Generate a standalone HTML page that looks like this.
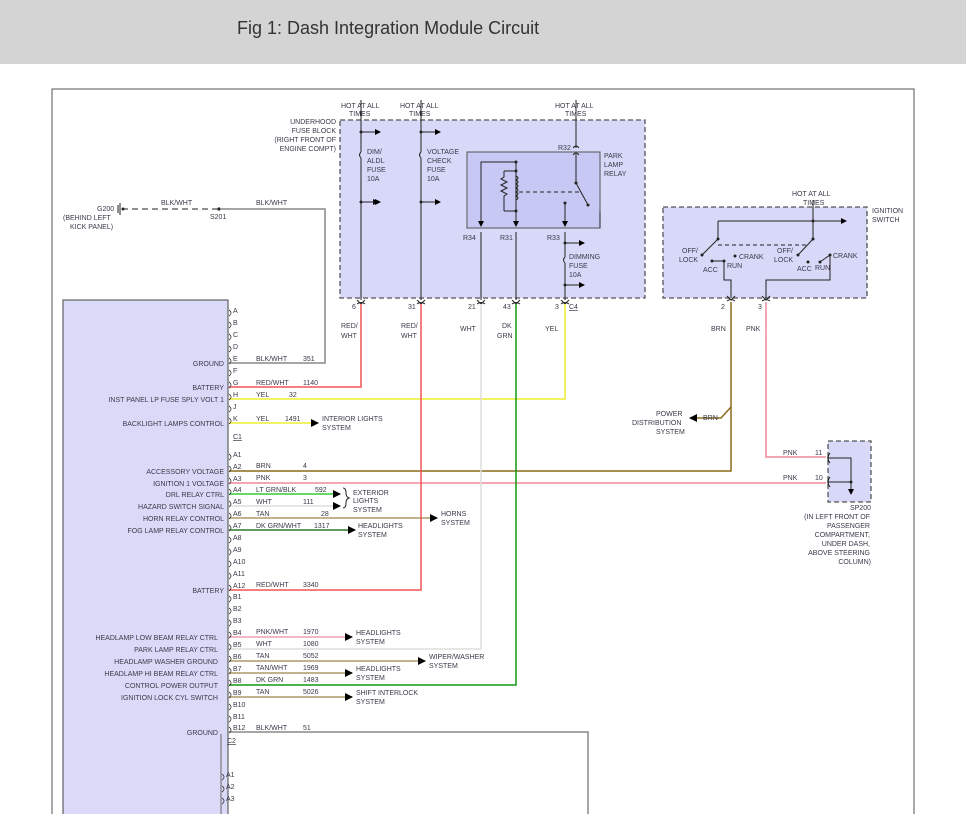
<!DOCTYPE html>
<html><head><meta charset="utf-8"><style>
body{margin:0;background:#fff;}
svg text{font-family:"Liberation Sans",sans-serif;font-size:7px;fill:#3a3a4a;}
</style></head><body>
<svg width="966" height="814" viewBox="0 0 966 814" xmlns="http://www.w3.org/2000/svg">
<defs>
<marker id="ar" markerWidth="8" markerHeight="8" refX="7" refY="4" orient="auto" markerUnits="userSpaceOnUse"><path d="M0,0 L8,4 L0,8 z" fill="#000"/></marker>
<marker id="as" markerWidth="6" markerHeight="6" refX="5" refY="3" orient="auto" markerUnits="userSpaceOnUse"><path d="M0,0 L6,3 L0,6 z" fill="#000"/></marker>
</defs>
<rect x="0" y="0" width="966" height="64" fill="#d4d4d4"/>
<text x="237" y="34" style="font-size:18px;fill:#333">Fig 1: Dash Integration Module Circuit</text>
<path d="M52,814 V89 H914 V814" fill="none" stroke="#555" stroke-width="1"/>

<!-- module -->
<rect x="63" y="300" width="165" height="520" fill="#dadaf8" stroke="#444" stroke-width="1"/>

<!-- fuse block -->
<rect x="340" y="120" width="305" height="178" fill="#d8d8f8" stroke="#555" stroke-dasharray="5,3" stroke-width="1.3"/>
<rect x="467" y="152" width="133" height="76" fill="#c8c8f4" stroke="#555"/>
<g stroke="#222" fill="none" stroke-width="1">
<path d="M361,100 V152 M361,158 V300 M361,132 H378 M361,202 H378" marker-end="url(#as)"/>
<path d="M361,132 H380" marker-end="url(#as)"/><path d="M361,202 H380" marker-end="url(#as)"/>
<path d="M361,152 q-3,3 0,6"/>
<path d="M421,100 V152 M421,158 V300"/><path d="M421,132 H440" marker-end="url(#as)"/><path d="M421,202 H440" marker-end="url(#as)"/>
<path d="M421,152 q-3,3 0,6"/>
<path d="M576,100 V148"/><path d="M573,148 q3,-4 6,0"/><path d="M573,155 q3,-4 6,0"/><path d="M576,154 V183 L588,205"/>
<path d="M515,162 H481 V226" marker-end="url(#as)"/><path d="M516,162 V226" marker-end="url(#as)"/>
<path d="M504,171 H516 M504,211 H516 M504,171 v6 l-3,2 l6,3 l-6,3 l6,3 l-6,3 l6,3 l-3,2 V211"/>
<path d="M516,176 q4,2 0,4 q4,2 0,4 q4,2 0,4 q4,2 0,4 q4,2 0,4 q4,2 0,4"/>
<path d="M519,192 H580" stroke-dasharray="4,3"/>
<path d="M565,203 V226" marker-end="url(#as)"/>
<path d="M481,232 V300 M516,232 V300 M565,232 V257 M565,263 V300"/>
<path d="M565,243 H584" marker-end="url(#as)"/><path d="M565,285 H584" marker-end="url(#as)"/>
<path d="M565,257 q-3,3 0,6"/>
<path d="M600,228 V212"/>
</g>
<g fill="#222"><circle cx="361" cy="132" r="1.5"/><circle cx="361" cy="202" r="1.5"/><circle cx="421" cy="132" r="1.5"/><circle cx="421" cy="202" r="1.5"/><circle cx="576" cy="183" r="1.5"/><circle cx="588" cy="205" r="1.5"/><circle cx="565" cy="203" r="1.5"/><circle cx="516" cy="171" r="1.5"/><circle cx="516" cy="211" r="1.5"/><circle cx="565" cy="243" r="1.5"/><circle cx="565" cy="285" r="1.5"/><circle cx="516" cy="162" r="1.5"/></g>
<text x="341" y="108">HOT AT ALL</text><text x="349" y="116">TIMES</text>
<text x="400" y="108">HOT AT ALL</text><text x="409" y="116">TIMES</text>
<text x="555" y="108">HOT AT ALL</text><text x="565" y="116">TIMES</text>
<g text-anchor="end"><text x="336" y="124">UNDERHOOD</text><text x="336" y="133">FUSE BLOCK</text><text x="336" y="142">(RIGHT FRONT OF</text><text x="336" y="151">ENGINE COMPT)</text></g>
<text x="367" y="154">DIM/</text><text x="367" y="163">ALDL</text><text x="367" y="172">FUSE</text><text x="367" y="181">10A</text>
<text x="427" y="154">VOLTAGE</text><text x="427" y="163">CHECK</text><text x="427" y="172">FUSE</text><text x="427" y="181">10A</text>
<text x="604" y="158">PARK</text><text x="604" y="167">LAMP</text><text x="604" y="176">RELAY</text>
<text x="558" y="150">R32</text><text x="463" y="240">R34</text><text x="500" y="240">R31</text><text x="547" y="240">R33</text>
<text x="569" y="259">DIMMING</text><text x="569" y="268">FUSE</text><text x="569" y="277">10A</text>
<!-- fuse pins bottom -->
<g stroke="#222" fill="none">
<path d="M357,300 l4,4 l4,-4 M357,304 q4,-3 8,0"/><path d="M417,300 l4,4 l4,-4 M417,304 q4,-3 8,0"/>
<path d="M477,300 l4,4 l4,-4 M477,304 q4,-3 8,0"/><path d="M512,300 l4,4 l4,-4 M512,304 q4,-3 8,0"/>
<path d="M561,300 l4,4 l4,-4 M561,304 q4,-3 8,0"/>
</g>
<text x="352" y="309">6</text><text x="408" y="309">31</text><text x="468" y="309">21</text><text x="503" y="309">43</text><text x="555" y="309">3</text><text x="569" y="309" style="text-decoration:underline">C4</text>
<text x="341" y="328">RED/</text><text x="341" y="338">WHT</text>
<text x="401" y="328">RED/</text><text x="401" y="338">WHT</text>
<text x="460" y="331">WHT</text><text x="502" y="328">DK</text><text x="497" y="338">GRN</text><text x="545" y="331">YEL</text>
<text x="711" y="331">BRN</text><text x="746" y="331">PNK</text>

<!-- ignition switch -->
<rect x="663" y="207" width="204" height="91" fill="#d8d8f8" stroke="#555" stroke-dasharray="5,3" stroke-width="1.3"/>
<text x="792" y="196">HOT AT ALL</text><text x="803" y="205">TIMES</text>
<text x="872" y="213">IGNITION</text><text x="872" y="222">SWITCH</text>
<g stroke="#222" fill="none">
<path d="M813,200 V239 L798,255"/><path d="M718,221 H846" marker-end="url(#as)"/>
<path d="M718,221 V239 L702,255"/><path d="M718,245 H806" stroke-dasharray="4,3"/>
<path d="M712,261 H724 V280 H731 V298"/><path d="M820,262 L830,255 V280 H766 V298"/>
<path d="M727,296 l4,4 l4,-4 M727,301 q4,-3 8,0"/><path d="M762,296 l4,4 l4,-4 M762,301 q4,-3 8,0"/>
</g>
<g fill="#222"><circle cx="813" cy="221" r="1.5"/><circle cx="718" cy="239" r="1.5"/><circle cx="702" cy="255" r="1.5"/><circle cx="813" cy="239" r="1.5"/><circle cx="798" cy="255" r="1.5"/><circle cx="712" cy="261" r="1.5"/><circle cx="724" cy="261" r="1.5"/><circle cx="735" cy="256" r="1.5"/><circle cx="808" cy="262" r="1.5"/><circle cx="820" cy="262" r="1.5"/><circle cx="830" cy="255" r="1.5"/></g>
<text x="682" y="253">OFF/</text><text x="679" y="262">LOCK</text><text x="703" y="272">ACC</text><text x="727" y="268">RUN</text><text x="739" y="259">CRANK</text>
<text x="777" y="253">OFF/</text><text x="774" y="262">LOCK</text><text x="797" y="271">ACC</text><text x="815" y="270">RUN</text><text x="833" y="258">CRANK</text>
<text x="721" y="309">2</text><text x="758" y="309">3</text>

<!-- SP200 -->
<rect x="828" y="441" width="43" height="61" fill="#d8d8f8" stroke="#555" stroke-dasharray="5,3" stroke-width="1.3"/>
<g stroke="#222" fill="none"><path d="M830,458 H851 V494" marker-end="url(#as)"/><path d="M830,482 H851"/>
<path d="M830,453 q-4,5 0,10 M827,458 h4"/><path d="M830,477 q-4,5 0,10 M827,482 h4"/></g>
<circle cx="851" cy="482" r="1.5" fill="#222"/>
<text x="783" y="455">PNK</text><text x="815" y="455">11</text><text x="783" y="480">PNK</text><text x="815" y="480">10</text>
<g text-anchor="end"><text x="871" y="510">SP200</text><text x="870" y="519">(IN LEFT FRONT OF</text><text x="870" y="528">PASSENGER</text><text x="870" y="537">COMPARTMENT,</text><text x="870" y="546">UNDER DASH,</text><text x="870" y="555">ABOVE STEERING</text><text x="871" y="564">COLUMN)</text></g>

<!-- G200 -->
<g stroke="#222" fill="none"><path d="M118,205 v8 M120,203 v12"/><path d="M122,209 H218" stroke-dasharray="6,4"/></g>
<circle cx="123" cy="209" r="1.5" fill="#222"/><circle cx="219" cy="209" r="1.6" fill="#222"/>
<text x="97" y="211">G200</text><text x="63" y="220">(BEHIND LEFT</text><text x="70" y="229">KICK PANEL)</text>
<text x="161" y="205">BLK/WHT</text><text x="256" y="205">BLK/WHT</text><text x="210" y="219">S201</text>

<!-- wires -->
<g fill="none" stroke-width="1.5">
<path d="M220,209 H325 V363 H229" stroke="#888"/>
<path d="M361,304 V387 H229" stroke="#f05555"/>
<path d="M565,304 V399 H229" stroke="#eeee33"/>
<path d="M229,423 H318" stroke="#eeee33" marker-end="url(#ar)"/>
<path d="M731,302 V471 H229" stroke="#8b6a1a"/>
<path d="M731,407 L721,418 H690" stroke="#8b6a1a" marker-end="url(#ar)"/>
<path d="M766,302 V457 H826" stroke="#f08898"/>
<path d="M229,483 H826" stroke="#f08898"/>
<path d="M229,494 H340" stroke="#33cc33" marker-end="url(#ar)"/>
<path d="M229,506 H340" stroke="#dddddd" marker-end="url(#ar)"/>
<path d="M229,518 H437" stroke="#b09868" marker-end="url(#ar)"/>
<path d="M229,530 H355" stroke="#2a7a2a" marker-end="url(#ar)"/>
<path d="M421,304 V590 H229" stroke="#f05555"/>
<path d="M229,637 H352" stroke="#f0a0b0" marker-end="url(#ar)"/>
<path d="M481,304 V649 H229" stroke="#dddddd"/>
<path d="M229,661 H425" stroke="#b09868" marker-end="url(#ar)"/>
<path d="M229,673 H352" stroke="#b09868" marker-end="url(#ar)"/>
<path d="M516,304 V685 H229" stroke="#119911"/>
<path d="M229,697 H352" stroke="#b09868" marker-end="url(#ar)"/>
<path d="M229,732 H588 V814" stroke="#888"/>
<path d="M221,734 V814" stroke="#666" stroke-width="1"/>
</g>
<path d="M343,488 q3,0 3,5 q0,4 3,5 q-3,1 -3,5 q0,5 -3,5" fill="none" stroke="#222"/>

<!-- wire labels -->
<text x="256" y="361">BLK/WHT</text><text x="303" y="361">351</text>
<text x="256" y="385">RED/WHT</text><text x="303" y="385">1140</text>
<text x="256" y="397">YEL</text><text x="289" y="397">32</text>
<text x="256" y="421">YEL</text><text x="285" y="421">1491</text>
<text x="322" y="421">INTERIOR LIGHTS</text><text x="322" y="430">SYSTEM</text>
<text x="656" y="416">POWER</text><text x="632" y="425">DISTRIBUTION</text><text x="656" y="434">SYSTEM</text><text x="703" y="420">BRN</text>
<text x="256" y="468">BRN</text><text x="303" y="468">4</text>
<text x="256" y="480">PNK</text><text x="303" y="480">3</text>
<text x="256" y="492">LT GRN/BLK</text><text x="315" y="492">592</text>
<text x="256" y="504">WHT</text><text x="303" y="504">111</text>
<text x="256" y="516">TAN</text><text x="321" y="516">28</text>
<text x="353" y="495">EXTERIOR</text><text x="353" y="503">LIGHTS</text><text x="353" y="512">SYSTEM</text>
<text x="441" y="516">HORNS</text><text x="441" y="525">SYSTEM</text>
<text x="256" y="528">DK GRN/WHT</text><text x="314" y="528">1317</text>
<text x="358" y="528">HEADLIGHTS</text><text x="358" y="537">SYSTEM</text>
<text x="256" y="587">RED/WHT</text><text x="303" y="587">3340</text>
<text x="256" y="634">PNK/WHT</text><text x="303" y="634">1970</text>
<text x="356" y="635">HEADLIGHTS</text><text x="356" y="644">SYSTEM</text>
<text x="256" y="646">WHT</text><text x="303" y="646">1080</text>
<text x="256" y="658">TAN</text><text x="303" y="658">5052</text>
<text x="429" y="659">WIPER/WASHER</text><text x="429" y="668">SYSTEM</text>
<text x="256" y="670">TAN/WHT</text><text x="303" y="670">1969</text>
<text x="356" y="671">HEADLIGHTS</text><text x="356" y="680">SYSTEM</text>
<text x="256" y="682">DK GRN</text><text x="303" y="682">1483</text>
<text x="256" y="694">TAN</text><text x="303" y="694">5026</text>
<text x="356" y="695">SHIFT INTERLOCK</text><text x="356" y="704">SYSTEM</text>
<text x="256" y="730">BLK/WHT</text><text x="303" y="730">51</text>

<!-- pin letters & curls -->
<g fill="none" stroke="#333" stroke-width="0.8">
<path d="M229,310 q4,3 0,6 M229,322 q4,3 0,6 M229,334 q4,3 0,6 M229,346 q4,3 0,6 M229,358 q4,3 0,6 M229,370 q4,3 0,6 M229,382 q4,3 0,6 M229,394 q4,3 0,6 M229,406 q4,3 0,6 M229,418 q4,3 0,6"/>
<path d="M229,454 q4,3 0,6 M229,466 q4,3 0,6 M229,478 q4,3 0,6 M229,489 q4,3 0,6 M229,501 q4,3 0,6 M229,513 q4,3 0,6 M229,525 q4,3 0,6 M229,537 q4,3 0,6 M229,549 q4,3 0,6 M229,561 q4,3 0,6 M229,573 q4,3 0,6 M229,585 q4,3 0,6"/>
<path d="M229,596 q4,3 0,6 M229,608 q4,3 0,6 M229,620 q4,3 0,6 M229,632 q4,3 0,6 M229,644 q4,3 0,6 M229,656 q4,3 0,6 M229,668 q4,3 0,6 M229,680 q4,3 0,6 M229,692 q4,3 0,6 M229,704 q4,3 0,6 M229,716 q4,3 0,6 M229,727 q4,3 0,6"/>
<path d="M222,774 q4,3 0,6 M222,786 q4,3 0,6 M222,798 q4,3 0,6"/>
</g>
<g>
<text x="233" y="313">A</text><text x="233" y="325">B</text><text x="233" y="337">C</text><text x="233" y="349">D</text><text x="233" y="361">E</text><text x="233" y="373">F</text><text x="233" y="385">G</text><text x="233" y="397">H</text><text x="233" y="409">J</text><text x="233" y="421">K</text>
<text x="233" y="439" style="text-decoration:underline">C1</text>
<text x="233" y="457">A1</text><text x="233" y="469">A2</text><text x="233" y="481">A3</text><text x="233" y="492">A4</text><text x="233" y="504">A5</text><text x="233" y="516">A6</text><text x="233" y="528">A7</text><text x="233" y="540">A8</text><text x="233" y="552">A9</text><text x="233" y="564">A10</text><text x="233" y="576">A11</text><text x="233" y="588">A12</text>
<text x="233" y="599">B1</text><text x="233" y="611">B2</text><text x="233" y="623">B3</text><text x="233" y="635">B4</text><text x="233" y="647">B5</text><text x="233" y="659">B6</text><text x="233" y="671">B7</text><text x="233" y="683">B8</text><text x="233" y="695">B9</text><text x="233" y="707">B10</text><text x="233" y="719">B11</text><text x="233" y="730">B12</text>
<text x="227" y="743" style="text-decoration:underline">C2</text>
<text x="226" y="777">A1</text><text x="226" y="789">A2</text><text x="226" y="801">A3</text>
</g>
<!-- module labels -->
<g text-anchor="end">
<text x="224" y="366">GROUND</text><text x="224" y="390">BATTERY</text><text x="224" y="402">INST PANEL LP FUSE SPLY VOLT 1</text><text x="224" y="426">BACKLIGHT LAMPS CONTROL</text>
<text x="224" y="474">ACCESSORY VOLTAGE</text><text x="224" y="486">IGNITION 1 VOLTAGE</text><text x="224" y="497">DRL RELAY CTRL</text><text x="224" y="509">HAZARD SWITCH SIGNAL</text><text x="224" y="521">HORN RELAY CONTROL</text><text x="224" y="533">FOG LAMP RELAY CONTROL</text>
<text x="224" y="593">BATTERY</text>
<text x="218" y="640">HEADLAMP LOW BEAM RELAY CTRL</text><text x="218" y="652">PARK LAMP RELAY CTRL</text><text x="218" y="664">HEADLAMP WASHER GROUND</text><text x="218" y="676">HEADLAMP HI BEAM RELAY CTRL</text><text x="218" y="688">CONTROL POWER OUTPUT</text><text x="218" y="700">IGNITION LOCK CYL SWITCH</text>
<text x="218" y="735">GROUND</text>
</g>
</svg>
</body></html>
